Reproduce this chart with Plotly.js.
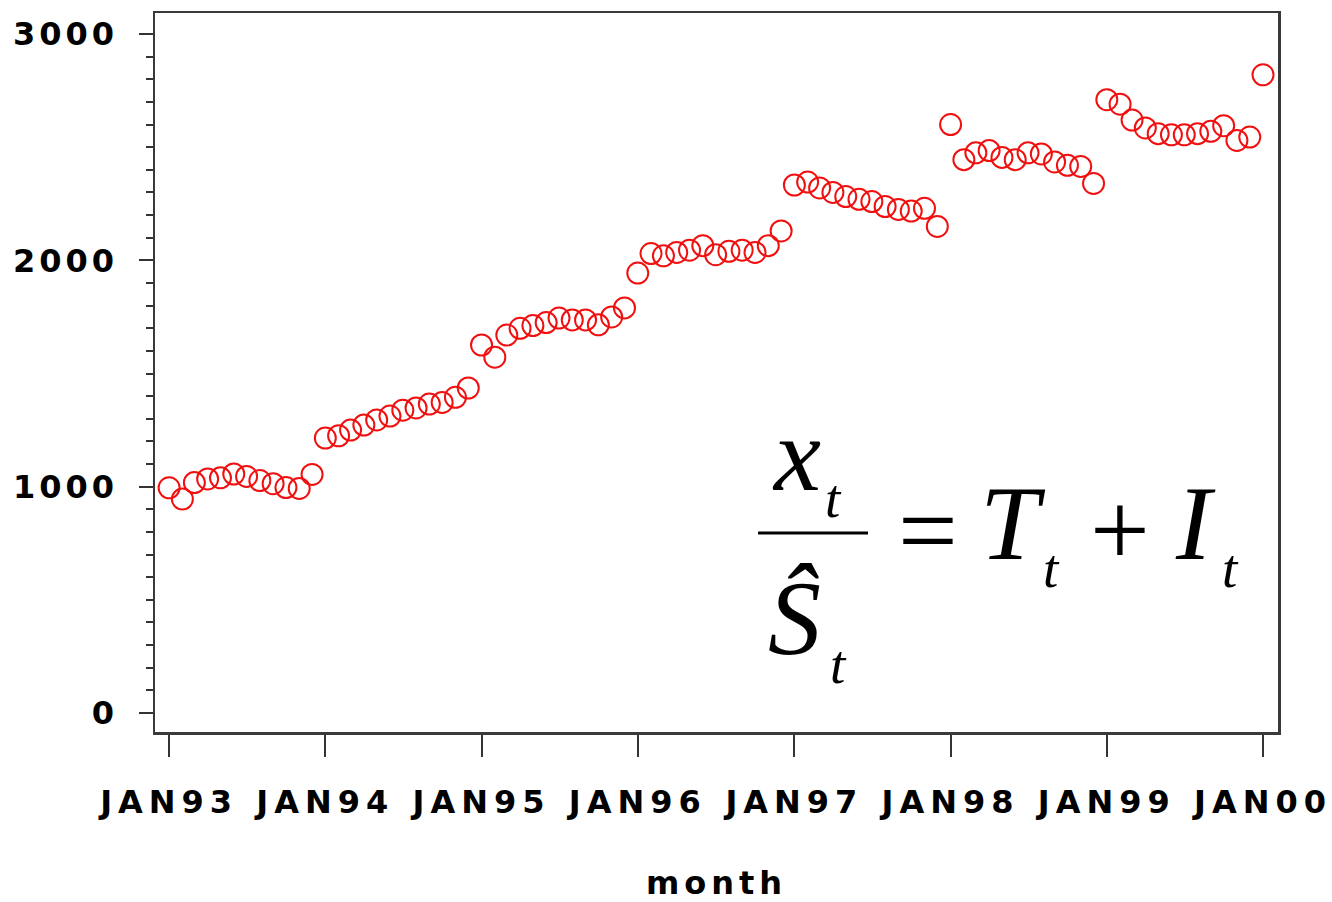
<!DOCTYPE html>
<html>
<head>
<meta charset="utf-8">
<script src="https://cdn.plot.ly/plotly-3.0.1.min.js"></script>
<style>
  html, body { margin: 0; padding: 0; background: #fff; }
  #chart { width: 1332px; height: 902px; }
  .xtick text { letter-spacing: 6px; }
  .ytick text { letter-spacing: 4px; }
  .g-xtitle text { letter-spacing: 5px; }
</style>
</head>
<body>
<div id="chart"></div>
<script>
// Monthly values (seasonally adjusted series)
const y1993 = [995, 945, 1018, 1034, 1039, 1056, 1045, 1027, 1013, 996, 992, 1054];
const y1994 = [1215, 1225, 1250, 1272, 1295, 1312, 1338, 1348, 1365, 1372, 1395, 1436];
const y1995 = [1626, 1572, 1670, 1700, 1712, 1725, 1745, 1737, 1737, 1715, 1750, 1790];
const y1996 = [1944, 2030, 2020, 2035, 2045, 2065, 2025, 2040, 2045, 2035, 2065, 2130];
const y1997 = [2333, 2346, 2320, 2300, 2282, 2270, 2260, 2238, 2225, 2218, 2230, 2150];
const y1998 = [2600, 2445, 2475, 2485, 2455, 2445, 2475, 2470, 2435, 2420, 2415, 2340];
const y1999 = [2710, 2690, 2620, 2585, 2560, 2555, 2555, 2560, 2570, 2595, 2530, 2545];
const y2000 = [2820];

const years = [1993, 1994, 1995, 1996, 1997, 1998, 1999, 2000];
const tickLabels = ["JAN93", "JAN94", "JAN95", "JAN96", "JAN97", "JAN98", "JAN99", "JAN00"];
const yTicks = [0, 1000, 2000, 3000];

const series = [y1993, y1994, y1995, y1996, y1997, y1998, y1999, y2000];
const months = [], values = [];
series.forEach((arr, k) => {
  arr.forEach((v, m) => {
    const mm = String(m + 1).padStart(2, "0");
    months.push(years[k] + "-" + mm + "-01");
    values.push(v);
  });
});
const tickVals = years.map(y => y + "-01-01");

const trace = {
  type: "scatter",
  mode: "markers",
  x: months,
  y: values,
  marker: {
    symbol: "circle-open",
    size: 21,
    color: "#f01010",
    line: { width: 2, color: "#f01010" }
  },
  hoverinfo: "x+y"
};

const axisCommon = {
  showline: true,
  mirror: true,
  linecolor: "#3a3a3a",
  linewidth: 2.5,
  showgrid: false,
  zeroline: false,
  ticks: "outside",
  tickcolor: "#333",
  tickwidth: 2,
  ticklabeloverflow: "allow",
  tickfont: { family: "DejaVu Sans", size: 32, color: "#000", weight: "bold" }
};

// Equation pieces (paper coordinates)
const eqFont = (size, italic) => ({ family: "Liberation Serif", size: size, color: "#000", style: italic ? "italic" : "normal" });
const ann = (text, x, y, size, italic) => ({
  xref: "paper", yref: "paper", x: x, y: y, text: text,
  showarrow: false, xanchor: "center", yanchor: "middle",
  font: eqFont(size, italic)
});
const annotations = [
  ann("x", 0.5708, 0.3866, 106, true),
  ann("t", 0.6040, 0.3248, 55, true),
  ann("Ŝ", 0.5699, 0.1572, 106, true),
  ann("t", 0.6090, 0.0939, 55, true),
  ann("=", 0.6883, 0.2800, 106, false),
  ann("T", 0.7640, 0.2893, 106, true),
  ann("t", 0.7985, 0.2274, 55, true),
  ann("+", 0.8593, 0.2800, 106, false),
  ann("I", 0.9261, 0.2893, 106, true),
  ann("t", 0.9575, 0.2274, 55, true)
];

const layout = {
  width: 1332,
  height: 902,
  margin: { l: 155, r: 54, t: 13, b: 170 },
  paper_bgcolor: "#fff",
  plot_bgcolor: "#fff",
  showlegend: false,
  xaxis: Object.assign({}, axisCommon, {
    type: "date",
    range: ["1992-11-29", "2000-02-05"],
    tickvals: tickVals,
    ticktext: tickLabels,
    ticklen: 22,
    ticklabelstandoff: 18,
    title: { text: "month", font: { family: "DejaVu Sans", size: 32, color: "#000", weight: "bold" }, standoff: 52 }
  }),
  yaxis: Object.assign({}, axisCommon, {
    range: [-84, 3093],
    tickvals: yTicks,
    ticklen: 14,
    ticklabelstandoff: 14,
    minor: { dtick: 100, tick0: 0, ticks: "outside", ticklen: 7, tickcolor: "#333", tickwidth: 2, showgrid: false }
  }),
  shapes: [
    { type: "line", xref: "paper", yref: "paper", x0: 0.5370, x1: 0.6349, y0: 0.2768, y1: 0.2768,
      line: { color: "#000", width: 3 } }
  ],
  annotations: annotations
};

Plotly.newPlot("chart", [trace], layout, { displayModeBar: false, staticPlot: true });
</script>
</body>
</html>
